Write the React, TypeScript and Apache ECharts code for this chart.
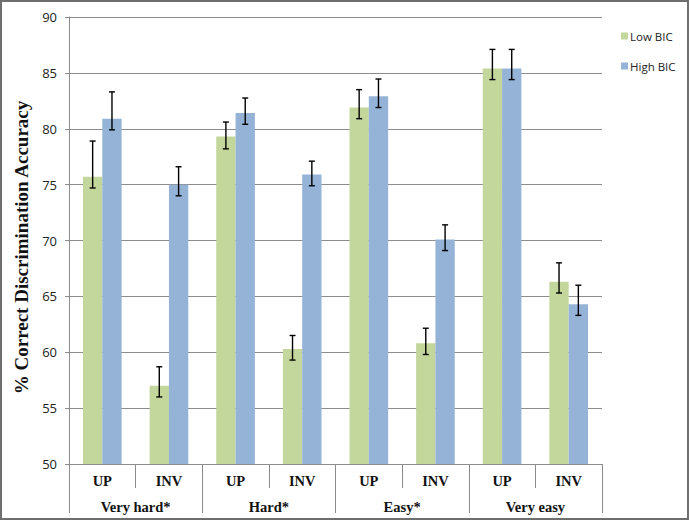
import React, { useEffect, useRef } from "react";
import * as echarts from "echarts";

const categories = ["UP", "INV", "UP", "INV", "UP", "INV", "UP", "INV"];
const groups = ["Very hard*", "Hard*", "Easy*", "Very easy"];
const yTicks = { min: 50, max: 90, interval: 5 };

const lowBIC = [75.7, 57.0, 79.3, 60.3, 81.9, 60.8, 85.4, 66.3];
const highBIC = [80.9, 75.0, 81.4, 75.9, 82.9, 70.1, 85.4, 64.3];

const lowErrLo = [74.7, 56.0, 78.2, 59.3, 80.9, 59.8, 84.4, 65.3];
const lowErrHi = [78.9, 58.7, 80.6, 61.5, 83.5, 62.15, 87.1, 68.0];
const highErrLo = [79.9, 74.0, 80.4, 74.9, 81.9, 69.1, 84.4, 63.3];
const highErrHi = [83.3, 76.6, 82.75, 77.1, 84.45, 71.4, 87.1, 66.0];

const GREEN = "#c3d69b";
const BLUE = "#95b3d7";
const GRID_GRAY = "#8c8c8c";

function errorSeries(lo: number[], hi: number[], offsetFrac: number) {
  return {
    type: "custom",
    xAxisIndex: 0,
    yAxisIndex: 0,
    z: 5,
    silent: true,
    data: lo.map((l, i) => [i, l, hi[i]]),
    renderItem: (params: any, api: any) => {
      const catW = api.size([1, 0])[0];
      const pLo = api.coord([api.value(0), api.value(1)]);
      const pHi = api.coord([api.value(0), api.value(2)]);
      const x = pLo[0] + offsetFrac * catW;
      const cap = 3;
      const style = { stroke: "#000", lineWidth: 1.4 };
      return {
        type: "group",
        children: [
          { type: "line", shape: { x1: x, y1: pLo[1], x2: x, y2: pHi[1] }, style },
          { type: "line", shape: { x1: x - cap, y1: pLo[1], x2: x + cap, y2: pLo[1] }, style },
          { type: "line", shape: { x1: x - cap, y1: pHi[1], x2: x + cap, y2: pHi[1] }, style },
        ],
      };
    },
  };
}

export default function App() {
  const ref = useRef<HTMLDivElement>(null);
  useEffect(() => {
    if (!ref.current) return;
    const chart = echarts.init(ref.current, undefined, { renderer: "svg" });
    chart.setOption({
      animation: false,
      backgroundColor: "#fff",
      grid: { left: 69, right: 88, top: 17, bottom: 57, containLabel: false },
      legend: {
        orient: "vertical",
        left: 621,
        top: 30,
        padding: 0,
        itemWidth: 7,
        itemHeight: 7,
        itemGap: 18,
        icon: "rect",
        textStyle: {
          fontFamily: "Open Sans",
          fontSize: 11.5,
          color: "#222",
          padding: [0, 0, 0, -3],
        },
        data: ["Low BIC", "High BIC"],
      },
      xAxis: [
        {
          type: "category",
          data: categories,
          position: "bottom",
          axisLine: { show: true, lineStyle: { color: GRID_GRAY, width: 1 } },
          axisTick: { show: true, length: 24, interval: 0, lineStyle: { color: GRID_GRAY } },
          axisLabel: {
            interval: 0,
            margin: 9,
            fontFamily: "Liberation Serif",
            fontWeight: "bold",
            fontSize: 14.5,
            color: "#111",
          },
        },
        {
          type: "category",
          data: groups,
          position: "bottom",
          axisLine: { show: false },
          axisTick: { show: true, length: 49, interval: 0, lineStyle: { color: GRID_GRAY } },
          axisLabel: {
            interval: 0,
            margin: 35,
            fontFamily: "Liberation Serif",
            fontWeight: "bold",
            fontSize: 14.5,
            color: "#111",
          },
        },
      ],
      yAxis: {
        type: "value",
        min: yTicks.min,
        max: yTicks.max,
        interval: yTicks.interval,
        name: "% Correct Discrimination Accuracy",
        nameLocation: "middle",
        nameGap: 29,
        nameTextStyle: {
          fontFamily: "Liberation Serif",
          fontWeight: "bold",
          fontSize: 19,
          color: "#111",
          padding: [0, 14, 0, 0],
        },
        axisLine: { show: true, lineStyle: { color: GRID_GRAY, width: 1 } },
        axisTick: { show: true, length: 4, lineStyle: { color: GRID_GRAY } },
        axisLabel: { margin: 12, fontFamily: "Open Sans", fontSize: 13, color: "#222" },
        splitLine: { show: true, lineStyle: { color: GRID_GRAY, width: 1 } },
      },
      series: [
        {
          name: "Low BIC",
          type: "bar",
          data: lowBIC,
          itemStyle: { color: GREEN },
          barGap: "0%",
          barCategoryGap: "42%",
        },
        {
          name: "High BIC",
          type: "bar",
          data: highBIC,
          itemStyle: { color: BLUE },
          barGap: "0%",
          barCategoryGap: "42%",
        },
        errorSeries(lowErrLo, lowErrHi, -0.145),
        errorSeries(highErrLo, highErrHi, 0.145),
      ],
      graphic: [
        {
          type: "rect",
          shape: { x: 1, y: 1, width: 687, height: 518 },
          style: { fill: "none", stroke: "#6e6e6e", lineWidth: 2 },
          silent: true,
          z: 100,
        },
      ],
    });
    return () => chart.dispose();
  }, []);
  return (
    <div
      ref={ref}
      style={{ position: "absolute", left: 0, top: 0, width: 690, height: 521 }}
    />
  );
}
